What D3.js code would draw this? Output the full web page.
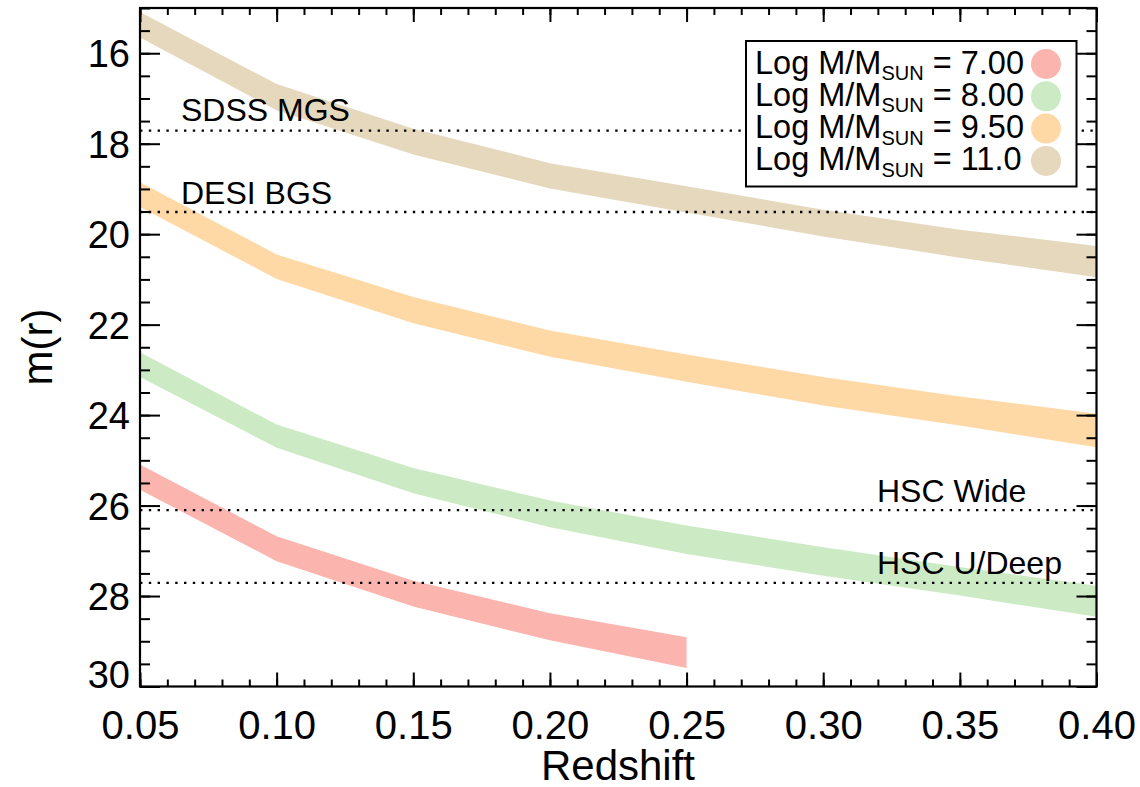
<!DOCTYPE html>
<html>
<head>
<meta charset="utf-8">
<script src="https://cdn.jsdelivr.net/npm/d3@7"></script>
<style>
  body { margin: 0; background: #fff; }
  svg { display: block; font-family: "Liberation Sans", Arial, Helvetica, sans-serif; }
</style>
</head>
<body>
<svg id="chart" width="1140" height="787"></svg>
<script>
// redshift grid of the model curves
var redshift = [0.05, 0.10, 0.15, 0.20, 0.25, 0.30, 0.35, 0.40];

// bright / faint edge of each band, m(r)
var mass7Bright  = [25.09, 26.68, 27.66, 28.38, 28.91];
var mass7Faint   = [25.65, 27.23, 28.23, 28.98, 29.59];
var mass8Bright  = [22.61, 24.21, 25.17, 25.89, 26.44, 26.92, 27.36, 27.77];
var mass8Faint   = [23.16, 24.72, 25.73, 26.48, 27.07, 27.55, 27.99, 28.46];
var mass95Bright = [18.85, 20.45, 21.39, 22.13, 22.66, 23.16, 23.59, 23.97];
var mass95Faint  = [19.40, 20.99, 21.97, 22.71, 23.26, 23.79, 24.23, 24.71];
var mass11Bright = [15.09, 16.68, 17.67, 18.43, 18.94, 19.46, 19.90, 20.26];
var mass11Faint  = [15.65, 17.26, 18.24, 18.99, 19.52, 20.05, 20.52, 20.95];

var legendLabels = ["7.00", "8.00", "9.50", "11.0"];
var bandColors = ["#fbb4ae", "#ccebc5", "#fed9a6", "#e5d8bd"];

// survey depth limits
var surveyNames = ["SDSS MGS", "DESI BGS", "HSC Wide", "HSC U/Deep"];
var surveyLimits = [17.71, 19.51, 26.1, 27.71];

var xMajorTicks = [0.05, 0.10, 0.15, 0.20, 0.25, 0.30, 0.35, 0.40];
var yMajorTicks = [16, 18, 20, 22, 24, 26, 28, 30];

var svg = d3.select("#chart");
var plotL = 140, plotR = 1096.5, plotT = 8, plotB = 686.5;

var x = d3.scaleLinear().domain([0.05, 0.40]).range([plotL, plotR]);
var y = d3.scaleLinear().domain([15, 30]).range([plotT, plotB]);

svg.append("clipPath").attr("id", "plotClip")
	.append("rect")
	.attr("x", plotL).attr("y", plotT)
	.attr("width", plotR - plotL).attr("height", plotB - plotT);

var bands = [
	{ bright: mass7Bright, faint: mass7Faint },
	{ bright: mass8Bright, faint: mass8Faint },
	{ bright: mass95Bright, faint: mass95Faint },
	{ bright: mass11Bright, faint: mass11Faint }
];

var area = d3.area()
	.x(function(d) { return x(d.z); })
	.y0(function(d) { return y(d.faint); })
	.y1(function(d) { return y(d.bright); });

var plot = svg.append("g").attr("clip-path", "url(#plotClip)");

bands.forEach(function(b, i) {
	var pts = b.bright.map(function(v, j) {
		return { z: redshift[j], bright: v, faint: b.faint[j] };
	});
	plot.append("path")
		.attr("d", area(pts))
		.attr("fill", bandColors[i]);
});

// dotted survey limits
plot.selectAll("line.limit")
	.data(surveyLimits)
	.enter().append("line")
	.attr("class", "limit")
	.attr("x1", plotL).attr("x2", plotR)
	.attr("y1", function(d) { return y(d); })
	.attr("y2", function(d) { return y(d); })
	.attr("stroke", "#000")
	.attr("stroke-width", 2.4)
	.attr("stroke-dasharray", "2.4,6.4");

var labelPos = [
	{ x: 181, y: 120.5 },
	{ x: 181, y: 203.5 },
	{ x: 877, y: 501.5 },
	{ x: 877, y: 573.5 }
];
svg.selectAll("text.survey")
	.data(surveyNames)
	.enter().append("text")
	.attr("class", "survey")
	.attr("x", function(d, i) { return labelPos[i].x; })
	.attr("y", function(d, i) { return labelPos[i].y; })
	.attr("font-size", 32)
	.text(function(d) { return d; });

// axes, ticks pointing inwards on all four sides
function minorRange(a, b, step) {
	var out = [];
	for (var v = a; v <= b + 1e-9; v += step) out.push(+v.toFixed(4));
	return out;
}
var xMinor = minorRange(0.05, 0.40, 0.01);
var yMinor = minorRange(15, 30, 0.5);

function styleAxis(g) {
	g.select(".domain").remove();
	g.selectAll("line").attr("stroke", "#000").attr("stroke-width", 2);
}

svg.append("g").attr("transform", "translate(0," + plotB + ")")
	.call(d3.axisBottom(x).tickValues(xMinor).tickSize(-7).tickFormat(""))
	.call(styleAxis);
var xAxis = svg.append("g").attr("transform", "translate(0," + plotB + ")")
	.call(d3.axisBottom(x).tickValues(xMajorTicks).tickSize(-14).tickFormat(d3.format(".2f")))
	.call(styleAxis);
xAxis.selectAll("text")
	.attr("y", 738.5 - plotB).attr("dy", 0)
	.attr("font-size", 40).attr("fill", "#000")
	.attr("font-family", "Liberation Sans, Arial, sans-serif");

svg.append("g").attr("transform", "translate(0," + plotT + ")")
	.call(d3.axisTop(x).tickValues(xMinor).tickSize(-7).tickFormat(""))
	.call(styleAxis);
svg.append("g").attr("transform", "translate(0," + plotT + ")")
	.call(d3.axisTop(x).tickValues(xMajorTicks).tickSize(-14).tickFormat(""))
	.call(styleAxis);

svg.append("g").attr("transform", "translate(" + plotL + ",0)")
	.call(d3.axisLeft(y).tickValues(yMinor).tickSize(-10).tickFormat(""))
	.call(styleAxis);
var yAxis = svg.append("g").attr("transform", "translate(" + plotL + ",0)")
	.call(d3.axisLeft(y).tickValues(yMajorTicks).tickSize(-20).tickFormat(d3.format("d")))
	.call(styleAxis);
yAxis.selectAll("text")
	.attr("x", 130 - plotL).attr("dy", "0.36em")
	.attr("font-size", 38).attr("fill", "#000")
	.attr("font-family", "Liberation Sans, Arial, sans-serif");
// the last label sits on the corner, lift it above the bottom axis
yAxis.selectAll(".tick").filter(function(d) { return d === 30; })
	.select("text").attr("y", -13);

svg.append("g").attr("transform", "translate(" + plotR + ",0)")
	.call(d3.axisRight(y).tickValues(yMinor).tickSize(-10).tickFormat(""))
	.call(styleAxis);
svg.append("g").attr("transform", "translate(" + plotR + ",0)")
	.call(d3.axisRight(y).tickValues(yMajorTicks).tickSize(-20).tickFormat(""))
	.call(styleAxis);

svg.append("rect")
	.attr("x", plotL).attr("y", plotT)
	.attr("width", plotR - plotL).attr("height", plotB - plotT)
	.attr("fill", "none").attr("stroke", "#000").attr("stroke-width", 2.2);

// axis titles
svg.append("text")
	.attr("x", 618).attr("y", 780)
	.attr("text-anchor", "middle")
	.attr("font-size", 42)
	.text("Redshift");
svg.append("text")
	.attr("transform", "translate(52,347) rotate(-90)")
	.attr("text-anchor", "middle")
	.attr("font-size", 42)
	.text("m(r)");

// legend
var legend = svg.append("g");
legend.append("rect")
	.attr("x", 746).attr("y", 41)
	.attr("width", 330.5).attr("height", 145.5)
	.attr("fill", "#fff").attr("stroke", "#000").attr("stroke-width", 2);

var rows = legend.selectAll("g.row")
	.data(legendLabels)
	.enter().append("g")
	.attr("class", "row")
	.attr("transform", function(d, i) { return "translate(0," + (73.5 + i * 32.3) + ")"; });

var label = rows.append("text")
	.attr("x", 755).attr("y", 0)
	.attr("font-size", 32.5);
label.append("tspan").text("Log M/M");
label.append("tspan").attr("font-size", 20).attr("dy", 6.5).text("SUN");
label.append("tspan").attr("dy", -6.5).text(function(d) { return " = " + d; });

rows.append("circle")
	.attr("cx", 1046).attr("cy", -9.5).attr("r", 15)
	.attr("fill", function(d, i) { return bandColors[i]; });
</script>
</body>
</html>
